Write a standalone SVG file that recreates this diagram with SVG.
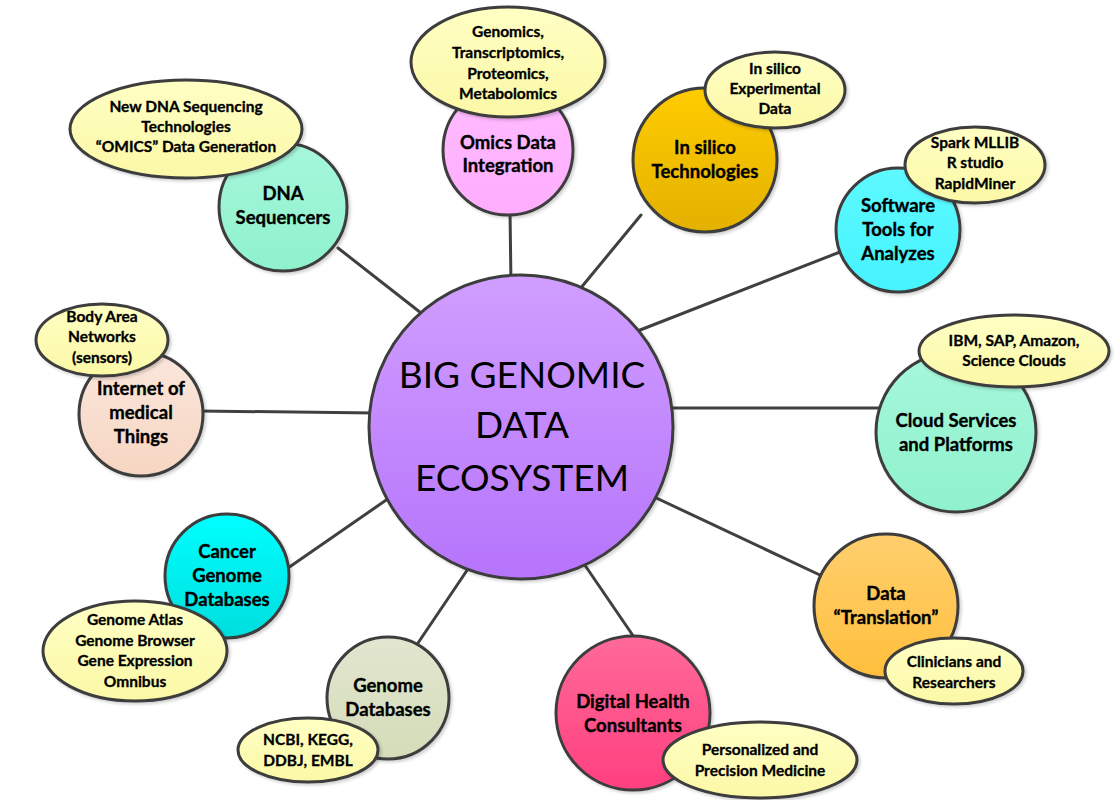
<svg xmlns="http://www.w3.org/2000/svg" width="1115" height="800" viewBox="0 0 1115 800">
<defs>
<linearGradient id="gCenter" x1="0" y1="0" x2="0" y2="1"><stop offset="0" stop-color="#d09eff"/><stop offset="1" stop-color="#b674fb"/></linearGradient>
<linearGradient id="gMint" x1="0" y1="0" x2="0" y2="1"><stop offset="0" stop-color="#a6f7dc"/><stop offset="1" stop-color="#8ff2cc"/></linearGradient>
<linearGradient id="gPink" x1="0" y1="0" x2="0" y2="1"><stop offset="0" stop-color="#ffbcff"/><stop offset="1" stop-color="#ffadfd"/></linearGradient>
<linearGradient id="gGold" x1="0" y1="0" x2="0" y2="1"><stop offset="0" stop-color="#ffcc00"/><stop offset="1" stop-color="#e3b100"/></linearGradient>
<linearGradient id="gCyanL" x1="0" y1="0" x2="0" y2="1"><stop offset="0" stop-color="#5ef9ff"/><stop offset="1" stop-color="#45f3ff"/></linearGradient>
<linearGradient id="gOrange" x1="0" y1="0" x2="0" y2="1"><stop offset="0" stop-color="#ffcf6e"/><stop offset="1" stop-color="#ffbf3c"/></linearGradient>
<linearGradient id="gRose" x1="0" y1="0" x2="0" y2="1"><stop offset="0" stop-color="#ff6a98"/><stop offset="1" stop-color="#ff3f80"/></linearGradient>
<linearGradient id="gOlive" x1="0" y1="0" x2="0" y2="1"><stop offset="0" stop-color="#e2e6d0"/><stop offset="1" stop-color="#d4dcb8"/></linearGradient>
<linearGradient id="gCyan" x1="0" y1="0" x2="0" y2="1"><stop offset="0" stop-color="#00ffff"/><stop offset="1" stop-color="#00dede"/></linearGradient>
<linearGradient id="gPeach" x1="0" y1="0" x2="0" y2="1"><stop offset="0" stop-color="#fbe6dc"/><stop offset="1" stop-color="#f6d6c2"/></linearGradient>
<linearGradient id="gYellow" x1="0" y1="0" x2="0" y2="1"><stop offset="0" stop-color="#ffffc4"/><stop offset="1" stop-color="#fbf8a6"/></linearGradient>
<filter id="sh" x="-20%" y="-20%" width="140%" height="140%"><feDropShadow dx="2" dy="2" stdDeviation="1.5" flood-color="#000" flood-opacity="0.18"/></filter>
</defs>
<style>
.node{stroke:#3c3c3c;stroke-width:3;filter:url(#sh)}
.bub{fill:url(#gYellow);stroke:#3c3c3c;stroke-width:3;filter:url(#sh)}
.conn line{stroke:#404040;stroke-width:3;stroke-linecap:round}
text{font-family:Lato,"Open Sans","Liberation Sans",sans-serif;fill:#000;text-anchor:middle}
.t{font-weight:bold;font-size:18.5px;stroke:#000;stroke-width:0.35}
.s{font-weight:bold;font-size:15.5px;stroke:#000;stroke-width:0.3}
.c{font-size:37px}
</style>
<rect width="1115" height="800" fill="#ffffff"/>
<g id="connectors" class="conn">
<line x1="338" y1="248" x2="430" y2="320"/>
<line x1="510" y1="210" x2="511" y2="285"/>
<line x1="641" y1="215" x2="575" y2="295"/>
<line x1="840" y1="252" x2="635" y2="332"/>
<line x1="880" y1="408" x2="665" y2="408"/>
<line x1="822" y1="576" x2="650" y2="495"/>
<line x1="636" y1="640" x2="580" y2="558"/>
<line x1="418" y1="643" x2="474" y2="560"/>
<line x1="288" y1="568" x2="392" y2="496"/>
<line x1="200" y1="411" x2="375" y2="413"/>
</g>
<g id="center">
<circle class="node" cx="521" cy="427" r="152" fill="url(#gCenter)"/>
<text class="c" x="522" y="388">BIG GENOMIC</text>
<text class="c" x="522" y="438">DATA</text>
<text class="c" x="522" y="491">ECOSYSTEM</text>
</g>
<g id="dna">
<circle class="node" cx="283" cy="207" r="64" fill="url(#gMint)"/>
<text class="t" x="283" y="200">DNA</text>
<text class="t" x="283" y="224">Sequencers</text>
<ellipse class="bub" cx="186" cy="129" rx="116" ry="49"/>
<text class="s" x="186" y="112">New DNA Sequencing</text>
<text class="s" x="186" y="132">Technologies</text>
<text class="s" x="186" y="152">“OMICS” Data Generation</text>
</g>
<g id="omics">
<circle class="node" cx="508" cy="150" r="65" fill="url(#gPink)"/>
<text class="t" x="508" y="149">Omics Data</text>
<text class="t" x="508" y="172">Integration</text>
<ellipse class="bub" cx="508" cy="62" rx="97" ry="55"/>
<text class="s" x="508" y="37">Genomics,</text>
<text class="s" x="508" y="58">Transcriptomics,</text>
<text class="s" x="508" y="79">Proteomics,</text>
<text class="s" x="508" y="99">Metabolomics</text>
</g>
<g id="insilico">
<circle class="node" cx="705" cy="160" r="72" fill="url(#gGold)"/>
<text class="t" x="705" y="154">In silico</text>
<text class="t" x="705" y="178">Technologies</text>
<ellipse class="bub" cx="775" cy="90" rx="70" ry="38"/>
<text class="s" x="775" y="74">In silico</text>
<text class="s" x="775" y="94">Experimental</text>
<text class="s" x="775" y="114">Data</text>
</g>
<g id="software">
<circle class="node" cx="898" cy="230" r="62" fill="url(#gCyanL)"/>
<text class="t" x="898" y="212">Software</text>
<text class="t" x="898" y="236">Tools for</text>
<text class="t" x="898" y="260">Analyzes</text>
<ellipse class="bub" cx="975" cy="165" rx="70" ry="38"/>
<text class="s" x="975" y="148">Spark MLLIB</text>
<text class="s" x="975" y="168">R studio</text>
<text class="s" x="975" y="189">RapidMiner</text>
</g>
<g id="cloud">
<circle class="node" cx="956" cy="432" r="80" fill="url(#gMint)"/>
<text class="t" x="956" y="427">Cloud Services</text>
<text class="t" x="956" y="451">and Platforms</text>
<ellipse class="bub" cx="1014" cy="351" rx="95" ry="36"/>
<text class="s" x="1014" y="346">IBM, SAP, Amazon,</text>
<text class="s" x="1014" y="366">Science Clouds</text>
</g>
<g id="translation">
<circle class="node" cx="886" cy="606" r="72" fill="url(#gOrange)"/>
<text class="t" x="886" y="600">Data</text>
<text class="t" x="886" y="624">“Translation”</text>
<ellipse class="bub" cx="954" cy="671" rx="69" ry="33"/>
<text class="s" x="954" y="667">Clinicians and</text>
<text class="s" x="954" y="688">Researchers</text>
</g>
<g id="digital">
<circle class="node" cx="633" cy="713" r="77" fill="url(#gRose)"/>
<text class="t" x="633" y="708">Digital Health</text>
<text class="t" x="633" y="732">Consultants</text>
<ellipse class="bub" cx="760" cy="760" rx="97" ry="38"/>
<text class="s" x="760" y="755">Personalized and</text>
<text class="s" x="760" y="776">Precision Medicine</text>
</g>
<g id="genomedb">
<circle class="node" cx="388" cy="698" r="61" fill="url(#gOlive)"/>
<text class="t" x="388" y="692">Genome</text>
<text class="t" x="388" y="716">Databases</text>
<ellipse class="bub" cx="308" cy="750" rx="70" ry="32"/>
<text class="s" x="308" y="745">NCBI, KEGG,</text>
<text class="s" x="308" y="766">DDBJ, EMBL</text>
</g>
<g id="cancer">
<circle class="node" cx="227" cy="576" r="62" fill="url(#gCyan)"/>
<text class="t" x="227" y="558">Cancer</text>
<text class="t" x="227" y="582">Genome</text>
<text class="t" x="227" y="606">Databases</text>
<ellipse class="bub" cx="135" cy="651" rx="92" ry="50"/>
<text class="s" x="135" y="625">Genome Atlas</text>
<text class="s" x="135" y="646">Genome Browser</text>
<text class="s" x="135" y="666">Gene Expression</text>
<text class="s" x="135" y="687">Omnibus</text>
</g>
<g id="iomt">
<circle class="node" cx="141" cy="414" r="62" fill="url(#gPeach)"/>
<text class="t" x="141" y="395">Internet of</text>
<text class="t" x="141" y="419">medical</text>
<text class="t" x="141" y="443">Things</text>
<ellipse class="bub" cx="102" cy="340" rx="66" ry="36"/>
<text class="s" x="102" y="322">Body Area</text>
<text class="s" x="102" y="342">Networks</text>
<text class="s" x="102" y="363">(sensors)</text>
</g>
</svg>
